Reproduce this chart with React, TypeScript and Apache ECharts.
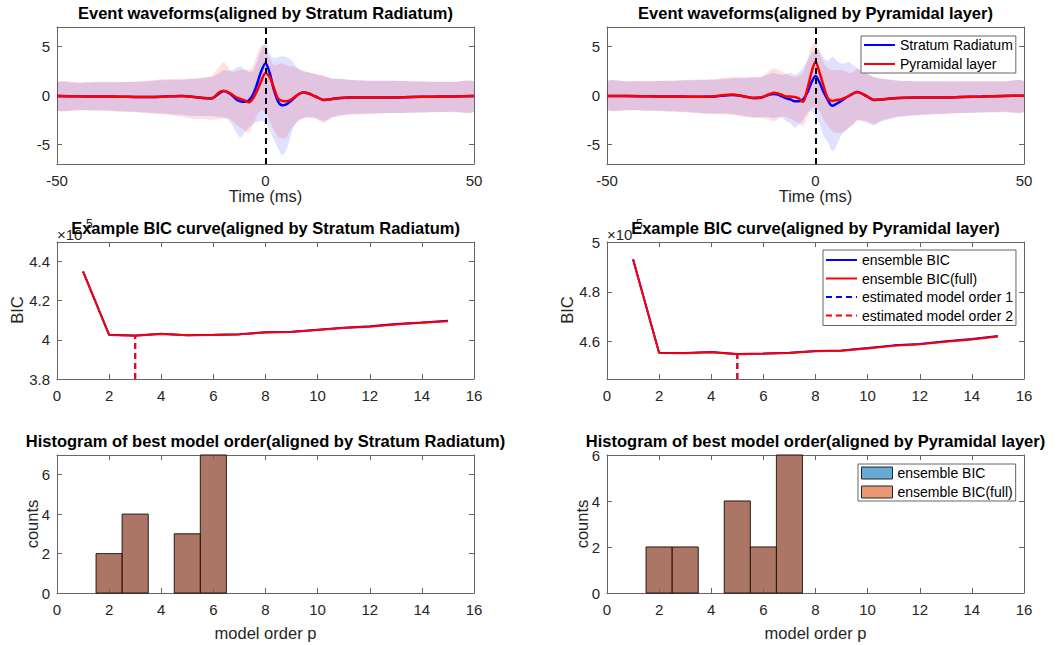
import React, { useEffect, useRef } from "react";
import * as echarts from "echarts";

// ---------- Event waveforms ----------
const T = [-50, -45, -40, -35, -30, -25, -20, -17, -15, -13, -11, -10, -9, -8, -7, -6, -5, -4, -3, -2, -1, 0, 1, 2, 3, 4, 5, 6, 7, 8, 9, 10, 12, 14, 16, 18, 20, 25, 30, 35, 40, 45, 50];
const EVENT_T = 0;

// aligned by Stratum Radiatum
const srA_srMean = [-0.05, -0.08, -0.1, -0.12, -0.15, -0.12, -0.05, -0.15, -0.25, -0.3, 0.25, 0.45, 0.3, 0.0, -0.4, -0.6, -0.65, -0.5, 0.1, 1.2, 2.5, 3.3, 2.3, 0.6, -0.6, -1.0, -0.9, -0.6, -0.2, 0.15, 0.3, 0.25, -0.1, -0.45, -0.35, -0.25, -0.2, -0.2, -0.2, -0.15, -0.12, -0.1, -0.05];
const srA_plMean = [-0.05, -0.08, -0.1, -0.12, -0.15, -0.12, -0.05, -0.15, -0.25, -0.3, 0.35, 0.45, 0.35, 0.1, -0.2, -0.35, -0.5, -0.7, -0.3, 0.5, 1.5, 2.3, 1.9, 0.8, -0.3, -0.55, -0.6, -0.45, -0.15, 0.15, 0.3, 0.25, -0.1, -0.45, -0.35, -0.25, -0.2, -0.2, -0.2, -0.15, -0.12, -0.1, -0.05];
const srA_srUpper = [1.3, 1.3, 1.35, 1.35, 1.4, 1.55, 1.6, 1.7, 1.8, 1.9, 2.3, 2.6, 2.5, 2.6, 2.8, 3.0, 2.7, 2.4, 2.5, 3.5, 4.7, 5.5, 4.3, 3.8, 3.9, 4.0, 3.9, 3.7, 3.2, 2.7, 2.5, 2.4, 2.2, 2.0, 1.7, 1.7, 1.6, 1.5, 1.5, 1.45, 1.4, 1.4, 1.4];
const srA_srLower = [-1.45, -1.5, -1.5, -1.6, -1.7, -1.85, -2.0, -2.1, -2.1, -2.1, -2.2, -2.3, -2.5, -3.0, -3.8, -4.3, -3.8, -3.3, -2.9, -2.7, -2.6, -2.8, -3.5, -4.5, -5.4, -6.1, -5.6, -4.2, -3.0, -2.5, -2.3, -2.2, -2.3, -2.6, -2.2, -2.0, -1.9, -1.85, -1.8, -1.75, -1.7, -1.65, -1.6];
const srA_plUpper = [1.35, 1.35, 1.4, 1.4, 1.45, 1.65, 1.7, 1.75, 1.85, 2.0, 3.0, 3.4, 2.9, 2.4, 2.5, 2.6, 2.6, 2.6, 3.0, 4.2, 5.1, 5.0, 3.8, 3.1, 3.2, 3.3, 3.1, 3.0, 2.9, 2.7, 2.5, 2.4, 2.2, 2.0, 1.75, 1.7, 1.6, 1.5, 1.5, 1.45, 1.4, 1.4, 1.4];
const srA_plLower = [-1.5, -1.5, -1.55, -1.65, -1.75, -1.9, -2.2, -2.4, -2.4, -2.5, -2.4, -2.3, -2.3, -2.6, -3.0, -3.3, -3.6, -3.8, -3.0, -2.0, -1.5, -1.8, -2.6, -3.5, -4.2, -4.4, -4.3, -3.5, -3.0, -2.6, -2.4, -2.3, -2.4, -2.8, -2.3, -2.1, -2.0, -1.9, -1.8, -1.75, -1.7, -1.7, -1.65];

// aligned by Pyramidal layer
const plA_srMean = [-0.05, -0.05, -0.08, -0.1, -0.12, -0.12, 0.05, -0.1, -0.25, -0.2, 0.1, 0.15, 0.1, -0.1, -0.3, -0.4, -0.6, -0.6, -0.4, 0.25, 1.3, 2.0, 1.3, 0.3, -0.5, -1.05, -0.85, -0.6, -0.3, -0.05, 0.2, 0.35, 0.0, -0.45, -0.4, -0.3, -0.25, -0.2, -0.2, -0.15, -0.1, -0.05, -0.02];
const plA_plMean = [-0.05, -0.05, -0.08, -0.1, -0.12, -0.1, 0.1, -0.1, -0.25, -0.2, 0.15, 0.27, 0.2, 0.05, -0.1, -0.1, -0.15, -0.3, -0.65, 0.6, 2.3, 3.45, 2.3, 0.9, -0.3, -0.55, -0.45, -0.4, -0.25, -0.05, 0.2, 0.35, 0.0, -0.45, -0.4, -0.3, -0.25, -0.2, -0.2, -0.15, -0.1, -0.05, -0.02];
const plA_srUpper = [1.4, 1.45, 1.45, 1.5, 1.55, 1.6, 1.75, 1.8, 1.85, 1.9, 2.2, 2.3, 2.2, 2.1, 2.2, 2.3, 2.1, 2.3, 2.8, 3.5, 4.3, 4.6, 4.6, 3.8, 3.5, 3.95, 3.6, 3.3, 3.3, 3.45, 3.1, 2.8, 2.3, 1.9, 1.7, 1.6, 1.5, 1.45, 1.45, 1.45, 1.45, 1.45, 1.45];
const plA_srLower = [-1.4, -1.5, -1.55, -1.6, -1.7, -1.85, -1.9, -2.1, -2.2, -2.2, -2.25, -2.3, -2.2, -2.3, -2.6, -2.8, -3.3, -3.0, -2.5, -1.8, -1.6, -2.2, -2.9, -4.2, -4.8, -5.7, -5.2, -4.2, -3.65, -3.3, -2.9, -2.5, -2.7, -3.05, -2.6, -2.4, -2.2, -2.0, -1.9, -1.8, -1.7, -1.65, -1.6];
const plA_plUpper = [1.45, 1.45, 1.5, 1.5, 1.6, 1.65, 1.9, 1.85, 1.9, 1.95, 2.5, 2.8, 2.6, 2.4, 2.2, 2.0, 1.9, 2.0, 2.3, 3.6, 5.0, 5.5, 4.3, 3.3, 2.8, 2.6, 2.6, 2.6, 2.5, 2.3, 2.4, 2.7, 2.3, 1.9, 1.7, 1.6, 1.5, 1.45, 1.45, 1.45, 1.45, 1.45, 1.45];
const plA_plLower = [-1.45, -1.5, -1.55, -1.65, -1.75, -1.9, -2.0, -2.2, -2.3, -2.35, -2.5, -2.65, -2.4, -2.1, -2.2, -2.4, -2.6, -2.8, -3.1, -2.3, -1.3, -1.3, -1.6, -2.5, -3.1, -3.65, -3.8, -3.8, -3.65, -3.3, -3.0, -2.6, -2.6, -2.9, -2.5, -2.3, -2.15, -2.0, -1.9, -1.8, -1.75, -1.7, -1.65];

// ---------- BIC curves ----------
const bicOrders = [1, 2, 3, 4, 5, 6, 7, 8, 9, 10, 11, 12, 13, 14, 15];
const bicSrEnsemble = [435000, 402600, 402200, 403100, 402400, 402600, 402900, 403900, 404100, 405200, 406200, 406900, 408100, 408900, 409800];
const bicSrFull = [434900, 402500, 402100, 403000, 402300, 402500, 402800, 403800, 404000, 405000, 406000, 406700, 407900, 408700, 409500];
const bicPlEnsemble = [493100, 455500, 455400, 455800, 455000, 455200, 455500, 456200, 456400, 457400, 458500, 459100, 460200, 461100, 462300];
const bicPlFull = [493000, 455400, 455300, 455700, 454900, 455100, 455400, 456100, 456300, 457200, 458300, 458900, 460000, 460900, 462100];
const estOrderSr = [3, 3]; // [ensemble, full]
const estOrderPl = [5, 5];

// ---------- Histograms ----------
const histOrders = [2, 3, 4, 5, 6, 7];
const histSrEnsemble = [2, 4, 0, 3, 7, 0];
const histSrFull = [2, 4, 0, 3, 7, 0];
const histPlEnsemble = [2, 2, 0, 4, 2, 6];
const histPlFull = [2, 2, 0, 4, 2, 6];
const HIST_BIN = 1;

// ---------- ticks ----------
const waveXTicks = [-50, 0, 50];
const waveYTicks = [-5, 0, 5];
const orderTicks = [0, 2, 4, 6, 8, 10, 12, 14, 16];
const bicSrYTicks = [380000, 400000, 420000, 440000];
const bicPlYTicks = [460000, 480000, 500000];
const histYTicks = [0, 2, 4, 6];

const FONT = "'Liberation Sans', Arial, Helvetica, sans-serif";
const BOX = "#666666";
const TXT = "#262626";
const LEFT_X = [57, 607];
const W = 417;

const grids = [
  { left: 57, top: 27, width: W, height: 137 },
  { left: 607, top: 27, width: W, height: 137 },
  { left: 57, top: 242, width: W, height: 137 },
  { left: 607, top: 242, width: W, height: 137 },
  { left: 57, top: 455, width: W, height: 138 },
  { left: 607, top: 455, width: W, height: 138 },
];

function axisPair(dim: "x" | "y", g: number, min: number, max: number, ticks: number[], fmt?: (v: number) => string) {
  const common = {
    type: "value",
    gridIndex: g,
    min,
    max,
    splitLine: { show: false },
    axisLine: { show: true, onZero: false, lineStyle: { color: BOX, width: 1 } },
    axisTick: { show: true, inside: true, length: 5, customValues: ticks, lineStyle: { color: BOX, width: 1 } },
  };
  const main = {
    ...common,
    position: dim === "x" ? "bottom" : "left",
    axisLabel: {
      show: true,
      customValues: ticks,
      margin: dim === "x" ? 9 : 7,
      fontSize: 15,
      color: TXT,
      fontFamily: FONT,
      formatter: fmt ? fmt : (v: number) => String(v),
    },
  };
  const mirror = { ...common, position: dim === "x" ? "top" : "right", axisLabel: { show: false } };
  return [main, mirror];
}

const bicFmt = (v: number) => String(+(v / 1e5).toFixed(2));

function bandSeries(g: number, name: string, up: number[], lo: number[], fill: string) {
  return {
    type: "custom",
    name,
    xAxisIndex: 2 * g,
    yAxisIndex: 2 * g,
    silent: true,
    clip: true,
    z: 1,
    encode: { x: 0, y: [1, 2] },
    data: T.map((t, i) => [t, lo[i], up[i]]),
    renderItem: (params: any, api: any) => {
      if (params.dataIndex !== 0) return null;
      const upper = T.map((t, i) => api.coord([t, up[i]]));
      const lower = T.map((t, i) => api.coord([t, lo[i]])).reverse();
      return {
        type: "polygon",
        shape: { points: upper.concat(lower), smooth: 0.25 },
        style: { fill, stroke: "none" },
      };
    },
  };
}

function waveSeries(g: number, srMean: number[], plMean: number[], srUp: number[], srLo: number[], plUp: number[], plLo: number[]) {
  const base = { type: "line", xAxisIndex: 2 * g, yAxisIndex: 2 * g, symbol: "none", smooth: 0.3, silent: true };
  const pts = (a: number[]) => T.map((t, i) => [t, a[i]]);
  return [
    bandSeries(g, `sr-band-${g}`, srUp, srLo, "rgba(0,0,255,0.12)"),
    bandSeries(g, `pl-band-${g}`, plUp, plLo, "rgba(255,0,0,0.12)"),
    { ...base, name: "Stratum Radiatum", data: pts(srMean), lineStyle: { color: "#0000ff", width: 2.5 }, itemStyle: { color: "#0000ff" }, z: 3 },
    {
      ...base,
      name: "Pyramidal layer",
      data: pts(plMean),
      lineStyle: { color: "#ff0000", width: 2.5 },
      itemStyle: { color: "#ff0000" },
      z: 3,
      markLine: {
        silent: true,
        symbol: ["none", "none"],
        label: { show: false },
        lineStyle: { color: "#000000", width: 2, type: [6, 4], opacity: 1 },
        data: [{ xAxis: EVENT_T }],
        z: 5,
      },
    },
  ];
}

function bicSeries(g: number, ens: number[], full: number[], est: number[], yMin: number) {
  const base = { type: "line", xAxisIndex: 2 * g, yAxisIndex: 2 * g, symbol: "none", silent: true };
  return [
    { ...base, name: "ensemble BIC", data: bicOrders.map((p, i) => [p, ens[i]]), lineStyle: { color: "#0000ff", width: 2 }, itemStyle: { color: "#0000ff" }, z: 2 },
    { ...base, name: "ensemble BIC(full)", data: bicOrders.map((p, i) => [p, full[i]]), lineStyle: { color: "#ff0000", width: 2 }, itemStyle: { color: "#ff0000" }, z: 3 },
    { ...base, name: "estimated model order 1", data: [[est[0], yMin], [est[0], ens[est[0] - 1]]], lineStyle: { color: "#0000ff", width: 2, type: [6, 4] }, itemStyle: { color: "#0000ff" }, z: 2 },
    { ...base, name: "estimated model order 2", data: [[est[1], yMin], [est[1], full[est[1] - 1]]], lineStyle: { color: "#ff0000", width: 2, type: [6, 4] }, itemStyle: { color: "#ff0000" }, z: 3 },
  ];
}

const HIST_BLUE = "rgba(0,114,189,0.6)";
const HIST_ORANGE = "rgba(217,83,25,0.6)";

function histSeries(g: number, name: string, counts: number[], fill: string, z: number) {
  return {
    type: "custom",
    name,
    xAxisIndex: 2 * g,
    yAxisIndex: 2 * g,
    silent: true,
    z,
    itemStyle: { color: fill },
    encode: { x: 0, y: 1 },
    data: histOrders.map((p, i) => [p, counts[i]]),
    renderItem: (_params: any, api: any) => {
      const p = api.value(0);
      const c = api.value(1);
      if (!c) return null;
      const a = api.coord([p - HIST_BIN / 2, c]);
      const b = api.coord([p + HIST_BIN / 2, 0]);
      return {
        type: "rect",
        shape: { x: a[0], y: a[1], width: b[0] - a[0], height: b[1] - a[1] },
        style: { fill, stroke: "rgba(0,0,0,0.55)", lineWidth: 1 },
      };
    },
  };
}

function buildOption() {
  const xAxis: any[] = [];
  const yAxis: any[] = [];
  for (const g of [0, 1]) {
    xAxis.push(...axisPair("x", g, -50, 50, waveXTicks));
    yAxis.push(...axisPair("y", g, -7, 7, waveYTicks));
  }
  xAxis.push(...axisPair("x", 2, 0, 16, orderTicks));
  yAxis.push(...axisPair("y", 2, 380000, 450000, bicSrYTicks, bicFmt));
  xAxis.push(...axisPair("x", 3, 0, 16, orderTicks));
  yAxis.push(...axisPair("y", 3, 445000, 500000, bicPlYTicks, bicFmt));
  xAxis.push(...axisPair("x", 4, 0, 16, orderTicks));
  yAxis.push(...axisPair("y", 4, 0, 7, histYTicks));
  xAxis.push(...axisPair("x", 5, 0, 16, orderTicks));
  yAxis.push(...axisPair("y", 5, 0, 6, histYTicks));

  const series: any[] = [
    ...waveSeries(0, srA_srMean, srA_plMean, srA_srUpper, srA_srLower, srA_plUpper, srA_plLower),
    ...waveSeries(1, plA_srMean, plA_plMean, plA_srUpper, plA_srLower, plA_plUpper, plA_plLower),
    ...bicSeries(2, bicSrEnsemble, bicSrFull, estOrderSr, 380000),
    ...bicSeries(3, bicPlEnsemble, bicPlFull, estOrderPl, 445000),
    histSeries(4, "hist: ensemble BIC", histSrEnsemble, HIST_BLUE, 2),
    histSeries(4, "hist: ensemble BIC(full)", histSrFull, HIST_ORANGE, 3),
    histSeries(5, "hist: ensemble BIC", histPlEnsemble, HIST_BLUE, 2),
    histSeries(5, "hist: ensemble BIC(full)", histPlFull, HIST_ORANGE, 3),
  ];

  const legendBase = {
    orient: "vertical",
    selectedMode: false,
    itemWidth: 31,
    itemGap: 5,
    borderColor: BOX,
    borderWidth: 1,
    backgroundColor: "#ffffff",
    textStyle: { fontSize: 14, color: "#000000", fontFamily: FONT },
    z: 10,
  };

  const legend = [
    {
      ...legendBase,
      left: 861,
      top: 36,
      itemHeight: 14,
      padding: [2, 3, 2, 2],
      itemStyle: { opacity: 0, color: "transparent", borderWidth: 0 },
      data: ["Stratum Radiatum", "Pyramidal layer"],
    },
    {
      ...legendBase,
      left: 823,
      top: 250,
      itemHeight: 14,
      itemGap: 4.5,
      padding: [3, 3, 3, 2],
      itemStyle: { opacity: 0, color: "transparent", borderWidth: 0 },
      data: ["ensemble BIC", "ensemble BIC(full)", "estimated model order 1", "estimated model order 2"],
    },
    {
      ...legendBase,
      left: 858,
      top: 464,
      itemHeight: 12,
      itemGap: 5,
      padding: [2, 3, 2, 3],
      formatter: (n: string) => n.replace(/^hist: /, ""),
      data: [
        { name: "hist: ensemble BIC", icon: "rect", itemStyle: { color: "rgb(102,170,215)", borderColor: "#262626", borderWidth: 1 } },
        { name: "hist: ensemble BIC(full)", icon: "rect", itemStyle: { color: "rgb(232,152,117)", borderColor: "#262626", borderWidth: 1 } },
      ],
    },
  ];

  const titleFont = `bold 16.5px ${FONT}`;
  const labelFont = `16.5px ${FONT}`;
  const titles = [
    ["Event waveforms(aligned by Stratum Radiatum)", 0, 13],
    ["Event waveforms(aligned by Pyramidal layer)", 1, 13],
    ["Example BIC curve(aligned by Stratum Radiatum)", 0, 228],
    ["Example BIC curve(aligned by Pyramidal layer)", 1, 228],
    ["Histogram of best model order(aligned by Stratum Radiatum)", 0, 441],
    ["Histogram of best model order(aligned by Pyramidal layer)", 1, 441],
  ];
  const graphic: any[] = [];
  for (const c of [0, 1]) {
    const lx = LEFT_X[c];
    graphic.push({ type: "text", x: lx, y: 234, z: 50, style: { text: "×10", font: `15px ${FONT}`, fill: TXT, align: "left", verticalAlign: "middle" } });
    graphic.push({ type: "text", x: lx + 29, y: 224, z: 50, style: { text: "5", font: `12px ${FONT}`, fill: TXT, align: "left", verticalAlign: "middle" } });
    graphic.push({ type: "text", x: lx + W / 2, y: 196, z: 50, style: { text: "Time (ms)", font: labelFont, fill: TXT, align: "center", verticalAlign: "middle" } });
    graphic.push({ type: "text", x: lx + W / 2, y: 633, z: 50, style: { text: "model order p", font: labelFont, fill: TXT, align: "center", verticalAlign: "middle" } });
    graphic.push({ type: "text", x: lx - 40, y: 310, rotation: Math.PI / 2, z: 50, style: { text: "BIC", font: labelFont, fill: TXT, align: "center", verticalAlign: "middle" } });
    graphic.push({ type: "text", x: lx - 25, y: 524, rotation: Math.PI / 2, z: 50, style: { text: "counts", font: labelFont, fill: TXT, align: "center", verticalAlign: "middle" } });
  }
  for (const [text, c, y] of titles as any[]) {
    graphic.push({ type: "text", x: LEFT_X[c] + W / 2, y, z: 60, style: { text, font: titleFont, fill: "#000000", align: "center", verticalAlign: "middle" } });
  }

  return {
    animation: false,
    backgroundColor: "#ffffff",
    grid: grids,
    xAxis,
    yAxis,
    series,
    legend,
    graphic,
  };
}

export default function App() {
  const ref = useRef<HTMLDivElement>(null);
  useEffect(() => {
    const chart = echarts.init(ref.current as HTMLDivElement, undefined, { renderer: "svg" });
    chart.setOption(buildOption() as any);
    return () => chart.dispose();
  }, []);
  return <div ref={ref} style={{ position: "absolute", left: 0, top: 0, width: 1061, height: 645, background: "#ffffff" }} />;
}
